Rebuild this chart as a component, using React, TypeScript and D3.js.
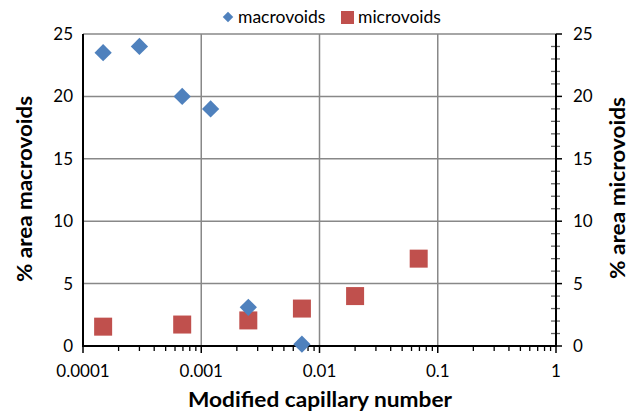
import * as d3 from "d3";

const macroX = [0.000148, 0.0003, 0.00069, 0.0012, 0.0025, 0.0071];
const macroY = [23.5, 24, 20, 19, 3.1, 0.15];
const microX = [0.000148, 0.00069, 0.0025, 0.0071, 0.02, 0.069];
const microY = [1.55, 1.72, 2.05, 3.0, 4.0, 7.0];
const xTicks = [0.0001, 0.001, 0.01, 0.1, 1];
const xTickLabels = ["0.0001", "0.001", "0.01", "0.1", "1"];
const yTicks = [0, 5, 10, 15, 20, 25];

const W = 636;
const H = 419;
const FONT = "Lato, 'Open Sans', sans-serif";
const BLUE = "#4F81BD";
const RED = "#C0504D";

const App = () => {
  const x = d3.scaleLog().domain([0.0001, 1]).range([83, 556]);
  const y = d3.scaleLinear().domain([0, 25]).range([346, 34]);

  // log minor ticks 2..9 per decade
  const minorX: number[] = [];
  for (let e = -4; e < 0; e++) {
    for (let k = 2; k <= 9; k++) minorX.push(k * Math.pow(10, e));
  }
  const minorY = d3.range(0, 26).filter((v) => v % 5 !== 0);

  const diamond = d3.symbol().type(d3.symbolDiamond2).size(190)();
  const left = x.range()[0];
  const right = x.range()[1];
  const bottom = y(0);

  return (
    <svg
      width={W}
      height={H}
      style={{ position: "absolute", left: 0, top: 0, background: "#fff" }}
      fontFamily={FONT}
    >
      {/* gridlines */}
      {yTicks.filter((t) => t > 0).map((t) => (
        <line key={"gy" + t} x1={left} x2={right} y1={y(t)} y2={y(t)} stroke="#888" strokeWidth={1.5} />
      ))}
      {xTicks.slice(1, -1).map((t) => (
        <line key={"gx" + t} x1={x(t)} x2={x(t)} y1={y(25)} y2={bottom} stroke="#888" strokeWidth={1.5} />
      ))}

      {/* right axis minor ticks */}
      {minorY.map((t) => (
        <line key={"ry" + t} x1={right - 5} x2={right + 4} y1={y(t)} y2={y(t)} stroke="#666" strokeWidth={1.3} />
      ))}
      {yTicks.map((t) => (
        <line key={"rY" + t} x1={right} x2={right + 6} y1={y(t)} y2={y(t)} stroke="#000" strokeWidth={1.5} />
      ))}

      {/* x axis ticks */}
      {minorX.map((t, i) => (
        <line key={"mx" + i} x1={x(t)} x2={x(t)} y1={bottom} y2={bottom + 5} stroke="#000" strokeWidth={1.3} />
      ))}
      {xTicks.map((t) => (
        <line key={"Mx" + t} x1={x(t)} x2={x(t)} y1={bottom} y2={bottom + 7} stroke="#000" strokeWidth={1.5} />
      ))}

      {/* axes */}
      <line x1={left} x2={left} y1={y(25)} y2={bottom + 1} stroke="#000" strokeWidth={2} />
      <line x1={right} x2={right} y1={y(25)} y2={bottom + 1} stroke="#000" strokeWidth={2} />
      <line x1={left} x2={right + 1} y1={bottom} y2={bottom} stroke="#000" strokeWidth={2} />

      {/* labels */}
      {yTicks.map((t) => (
        <text key={"ly" + t} x={left - 10} y={y(t)} dy="0.35em" textAnchor="end" fontSize={17}>
          {t}
        </text>
      ))}
      {yTicks.map((t) => (
        <text key={"lry" + t} x={right + 17} y={y(t)} dy="0.35em" textAnchor="start" fontSize={17}>
          {t}
        </text>
      ))}
      {xTicks.map((t, i) => (
        <text key={"lx" + t} x={x(t)} y={bottom + 25} dy="0.35em" textAnchor="middle" fontSize={17}>
          {xTickLabels[i]}
        </text>
      ))}

      <text x={320} y={407} textAnchor="middle" fontSize={20} fontWeight="bold" textLength={264} lengthAdjust="spacingAndGlyphs">
        Modified capillary number
      </text>
      <text transform="translate(32,189) rotate(-90)" textAnchor="middle" fontSize={20} fontWeight="bold" textLength={186} lengthAdjust="spacingAndGlyphs">
        % area macrovoids
      </text>
      <text transform="translate(625,188) rotate(-90)" textAnchor="middle" fontSize={20} fontWeight="bold" textLength={182} lengthAdjust="spacingAndGlyphs">
        % area microvoids
      </text>

      {/* data */}
      {microX.map((v, i) => (
        <rect key={"r" + i} x={x(v) - 9} y={y(microY[i]) - 9} width={18} height={18} fill={RED} />
      ))}
      {macroX.map((v, i) => (
        <path key={"d" + i} d={diamond ?? ""} transform={`translate(${x(v)},${y(macroY[i])})`} fill={BLUE} />
      ))}

      {/* legend */}
      <path d={d3.symbol().type(d3.symbolDiamond2).size(70)() ?? ""} transform="translate(228,17)" fill={BLUE} />
      <text x={238} y={17} dy="0.35em" fontSize={17.5}>macrovoids</text>
      <rect x={341} y={11} width={13} height={13} fill={RED} />
      <text x={358} y={17} dy="0.35em" fontSize={17.5}>microvoids</text>
    </svg>
  );
};

export default App;
